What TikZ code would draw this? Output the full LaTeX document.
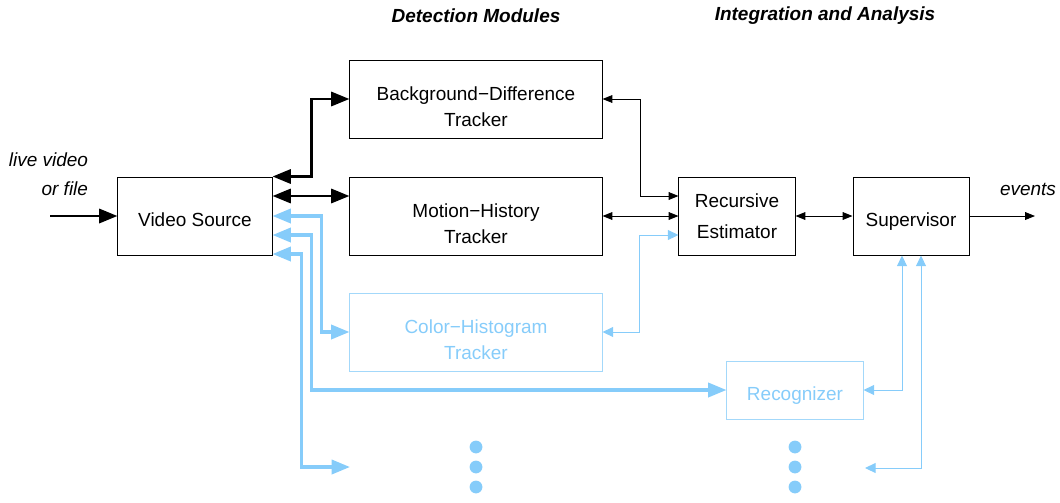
\documentclass[tikz,border=0pt]{standalone}
\usepackage{fontspec}
\setmainfont{Liberation Sans}
\usetikzlibrary{arrows.meta,positioning,calc}
\definecolor{sky}{HTML}{86CCFA}
\definecolor{skypale}{HTML}{A3D8FA}

\begin{document}
\begin{tikzpicture}[x=0.025cm,y=-0.025cm,
  font=\fontsize{13.5}{18}\selectfont,
  >={Triangle[length=7pt,width=5.5pt]},
  block/.style={draw,line width=0.7pt,align=center,inner sep=0pt,minimum height=1.95cm,
    text height=15.4pt,text depth=0pt},
  twoline/.style={text height=38.4pt,text depth=0pt},
  wide/.style={block,twoline,minimum width=6.3cm},
  narrow/.style={block,minimum width=2.9cm},
  faint/.style={draw=skypale,text=sky},
  thin/.style={line width=0.7pt},
  heavy/.style={line width=2.1pt,>={Triangle[length=13pt,width=10pt]}},
  skyheavy/.style={heavy,sky,line width=2.3pt},
  skythin/.style={sky,line width=0.7pt,>={Triangle[length=7.5pt,width=7pt]}},
  side/.style={font=\fontsize{13.5}{16}\selectfont\itshape},
  title/.style={font=\fontsize{13.5}{16}\selectfont\bfseries\itshape}]
  \useasboundingbox (0,0) rectangle (1060,502);

  % headings
  \node[title] (dethead) at (476,16) {Detection Modules};
  \node[title] (inthead) at (825,16) {Integration and Analysis};

  % blocks
  \node[block,minimum width=3.85cm] (vs) at (195,216) {Video Source};
  \node[wide] (bg) at (476,99) {Background−Difference\\Tracker};
  \node[wide] (mh) at (476,216) {Motion−History\\Tracker};
  \node[wide,faint] (ch) at (476,332) {Color−Histogram\\Tracker};
  \node[narrow,text height=,text depth=] (re) at (737,216) {Recursive\\[4pt]Estimator};
  \node[narrow] (sup) at (911,216) {Supervisor};
  \node[block,faint,minimum width=3.4cm,minimum height=1.45cm] (rec) at (795,390) {Recognizer};

  % source and output
  \node[side,anchor=east] (live) at (93,160) {live video};
  \node[side,anchor=east] (file) at (93,189) {or file};
  \node[side] (ev) at (1028,189) {events};
  \coordinate (src) at (50,216);
  \coordinate (out) at (1035,216);
  \coordinate (more1) at (350,467);
  \coordinate (more2) at (865,468);

  \draw[heavy,->] (src) -- (vs.west);
  \draw[thin,->] (sup.east) -- (out);

  % video source to the trackers
  \draw[heavy,<->] (vs.north east) -- ++(39,0) |- (bg.west);
  \draw[heavy,<->] ([yshift=0.5cm]vs.east) -- ([yshift=0.5cm]mh.west);
  \draw[skyheavy,<->] (vs.east) -- ++(49,0) |- (ch.west);
  \draw[skyheavy,<->] ([yshift=-0.475cm]vs.east) -- ++(39,0) |- (rec.west);
  \draw[skyheavy,<->] ([yshift=-0.95cm]vs.east) -- ++(29,0) |- (more1);

  % trackers to the estimator
  \draw[thin,<->] (bg.east) -- ++(38,0) |- ([yshift=0.5cm]re.west);
  \draw[thin,<->] (mh.east) -- (re.west);
  \draw[skythin,<->] ([yshift=-0.475cm]re.west) -- ++(-39,0) |- (ch.east);
  \draw[thin,<->] (re.east) -- (sup.west);

  % supervisor feedback
  \draw[skythin,<->] ([xshift=-0.225cm]sup.south) |- (rec.east);
  \draw[skythin,<->] ([xshift=0.25cm]sup.south) |- (more2);

  \foreach \x in {476,795}
    \foreach \y in {447,467,487}
      \fill[sky] (\x,\y) circle[radius=0.16cm];
\end{tikzpicture}
\end{document}
